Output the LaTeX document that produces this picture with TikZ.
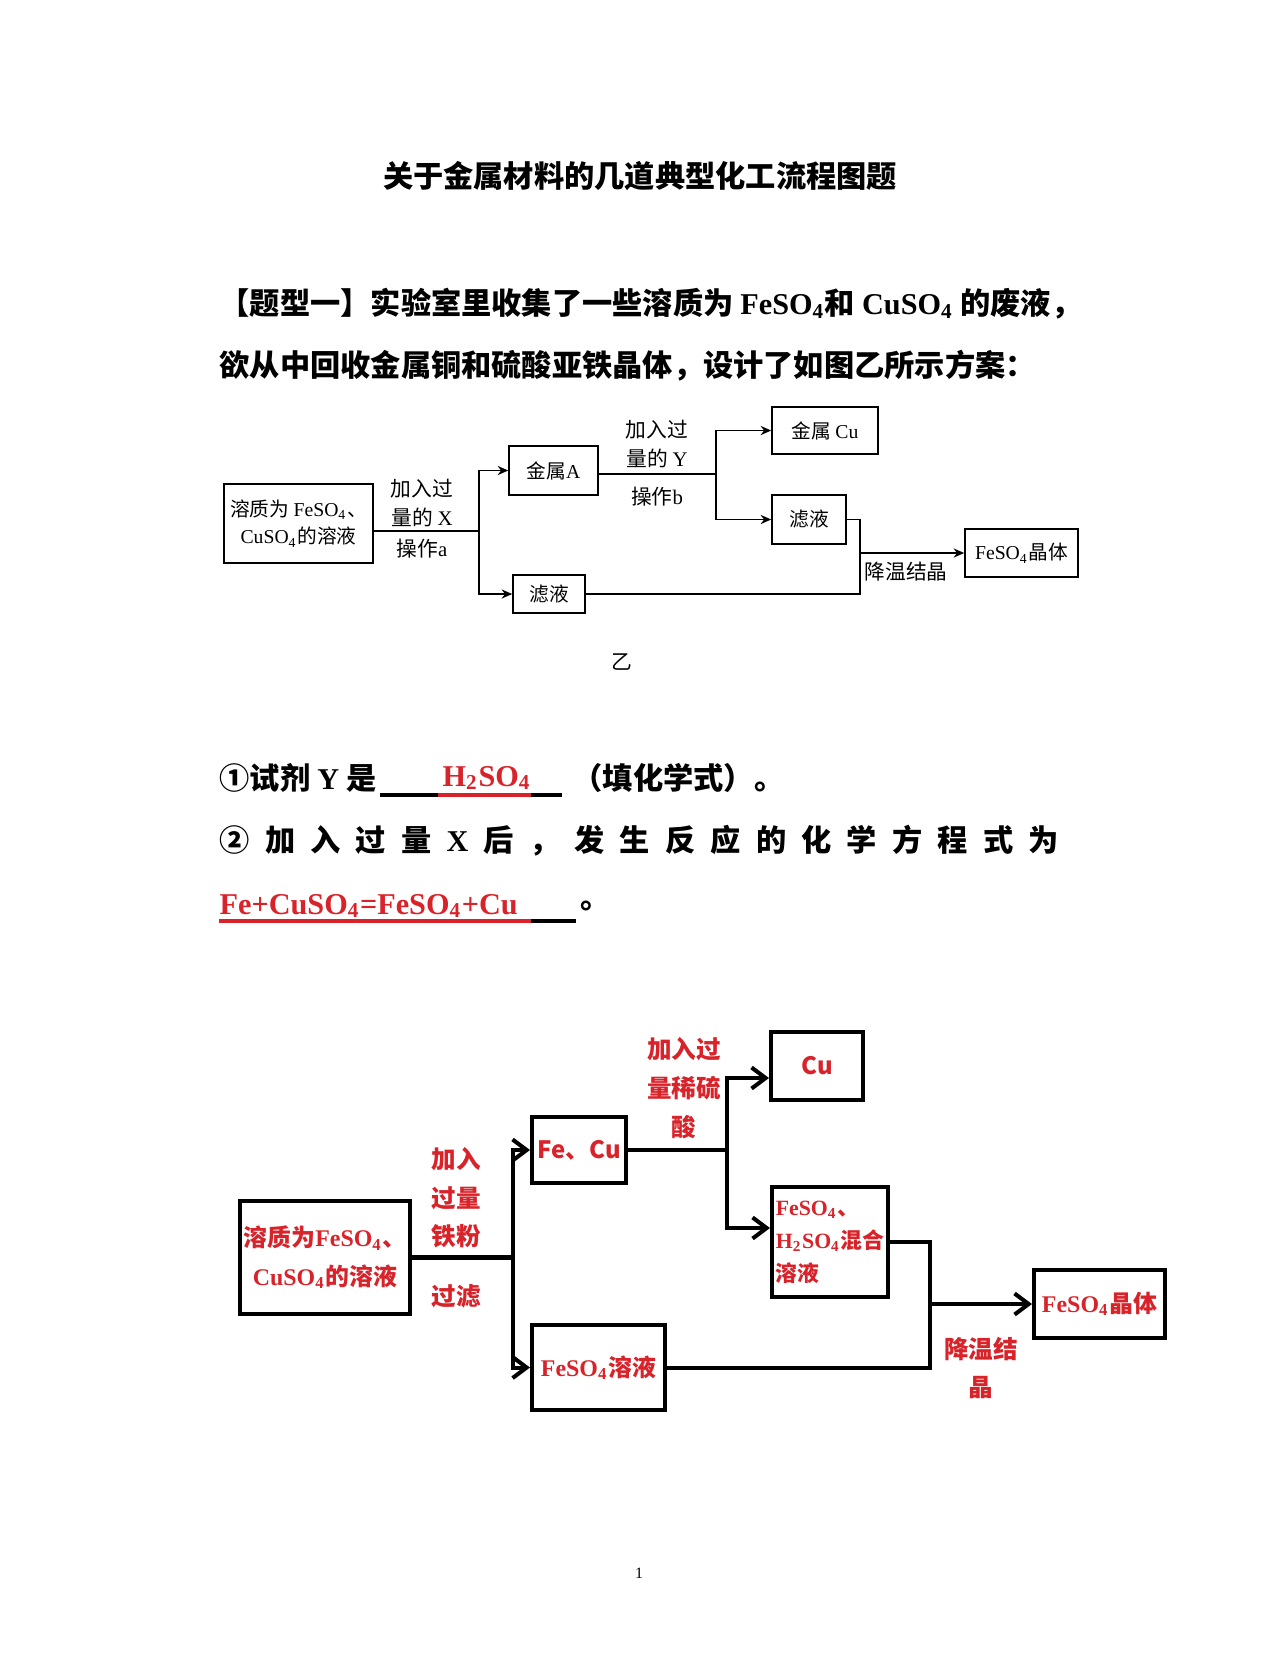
\documentclass[tikz,border=0pt]{standalone}
\usepackage{fontspec}
\setmainfont{Noto Sans CJK SC}
\newfontfamily\latin{Liberation Serif}
\usepackage{tikz}
\usetikzlibrary{arrows.meta, positioning}
\definecolor{ansRed}{HTML}{D8232A}
\newcommand{\chem}[1]{{\latin #1}}
\newcommand{\sub}[1]{\textsubscript{#1}}

\begin{document}
\begin{tikzpicture}[
    tbox/.style={rectangle, draw, line width=0.45pt, inner sep=1pt, align=center, font=\fontsize{5.6}{7.9}\selectfont},
    tarr/.style={-{Stealth[length=3pt, width=2.6pt]}, line width=0.45pt},
    tlbl/.style={align=center, font=\fontsize{5.9}{8}\selectfont},
    rbox/.style={rectangle, draw, line width=1.15pt, inner sep=1pt, align=center, text=ansRed, font=\fontsize{6.8}{11}\selectfont\bfseries},
    rline/.style={line width=1.15pt, line cap=rect},
    rarr/.style={-{Straight Barb[length=4pt, width=6pt]}, line width=1.15pt, line cap=rect},
    rlbl/.style={align=center, text=ansRed, font=\fontsize{7}{11}\selectfont\bfseries},
    para/.style={anchor=west, inner sep=0pt, font=\fontsize{8.6}{10}\selectfont\bfseries}
]
\path[use as bounding box, fill=white] (0,0) rectangle (12.8,-16.76);

\node[font=\fontsize{8.6}{10}\selectfont\bfseries] (title) at (6.40,-1.76) {关于金属材料的几道典型化工流程图题};
\node[para] (p1) at (2.19,-3.04) {【题型一】实验室里收集了一些溶质为 \chem{FeSO\sub{4}}和 \chem{CuSO\sub{4}} 的废液，};
\node[para] (p2) at (2.19,-3.66) {欲从中回收金属铜和硫酸亚铁晶体，设计了如图乙所示方案：};

\node[tbox, minimum width=1.49cm, minimum height=0.79cm] (src1) at (2.985,-5.235) {溶质为 \chem{FeSO\sub{4}}、\\\chem{CuSO\sub{4}}的溶液};
\node[tbox, minimum width=0.89cm, minimum height=0.49cm] (metA) at (5.535,-4.705) {金属\chem{A}};
\node[tbox, minimum width=0.72cm, minimum height=0.38cm] (fil1) at (5.49,-5.94) {滤液};
\node[tbox, minimum width=1.06cm, minimum height=0.47cm] (cu1) at (8.25,-4.305) {金属 \chem{Cu}};
\node[tbox, minimum width=0.74cm, minimum height=0.49cm] (fil2) at (8.09,-5.195) {滤液};
\node[tbox, minimum width=1.13cm, minimum height=0.48cm] (crys1) at (10.215,-5.53) {\chem{FeSO\sub{4}}晶体};
\coordinate (j1) at (4.79,-5.31);
\coordinate (j2) at (7.16,-4.74);
\coordinate (j3) at (8.60,-5.53);
\draw[line width=0.45pt] (src1.east |- j1) -- (j1);
\draw[tarr] (j1) |- (metA);
\draw[tarr] (j1) |- (fil1);
\draw[line width=0.45pt] (metA.east |- j2) -- (j2);
\draw[tarr] (j2) |- (cu1);
\draw[tarr] (j2) |- (fil2);
\draw[line width=0.45pt] (fil2) -| (fil1 -| j3) -- (fil1);
\draw[tarr] (j3) -- (crys1);
\node[tlbl] (addX) at (4.22,-5.03) {加入过\\量的 \chem{X}};
\node[tlbl] (opA) at (4.22,-5.49) {操作\chem{a}};
\node[tlbl] (addY) at (6.57,-4.44) {加入过\\量的 \chem{Y}};
\node[tlbl] (opB) at (6.57,-4.97) {操作\chem{b}};
\node[tlbl] (cool1) at (9.06,-5.72) {降温结晶};
\node[tlbl] (capB) at (6.22,-6.62) {乙};

\node[para] (q1) at (2.19,-7.78) {①试剂 \chem{Y} 是};
\node[para, text=ansRed, font=\fontsize{8.6}{10}\selectfont\bfseries\latin] (a1) at (4.42,-7.78) {H\sub{2}SO\sub{4}};
\node[para] (q1b) at (5.72,-7.78) {（填化学式）。};
\draw[line width=1.1pt] (3.80,-7.95) -- (4.38,-7.95);
\draw[ansRed, line width=1.1pt] (4.38,-7.95) -- (5.31,-7.95);
\draw[line width=1.1pt] (5.31,-7.95) -- (5.62,-7.95);
\node[para] (q2) at (2.19,-8.41) {\makebox[8.39cm][l]{②\hfill 加\hfill 入\hfill 过\hfill 量\hfill \chem{X}\hfill 后\hfill ，\hfill 发\hfill 生\hfill 反\hfill 应\hfill 的\hfill 化\hfill 学\hfill 方\hfill 程\hfill 式\hfill 为}};
\node[para, text=ansRed, font=\fontsize{8.6}{10}\selectfont\bfseries\latin] (a2) at (2.19,-9.06) {Fe+CuSO\sub{4}=FeSO\sub{4}+Cu};
\draw[ansRed, line width=1.1pt] (2.19,-9.21) -- (5.31,-9.21);
\draw[line width=1.1pt] (5.31,-9.21) -- (5.76,-9.21);
\node[para] (q3b) at (5.80,-9.06) {。};

\node[rbox, minimum width=1.68cm, minimum height=1.13cm] (src2) at (3.25,-12.575) {溶质为\chem{FeSO\sub{4}}、\\\chem{CuSO\sub{4}}的溶液};
\node[rbox, minimum width=0.94cm, minimum height=0.66cm] (feCu) at (5.79,-11.50) {Fe、Cu};
\node[rbox, minimum width=1.33cm, minimum height=0.85cm] (fes2) at (5.985,-13.675) {\chem{FeSO\sub{4}}溶液};
\node[rbox, minimum width=0.92cm, minimum height=0.68cm] (cu2) at (8.17,-10.66) {Cu};
\node[rbox, minimum width=1.16cm, minimum height=1.10cm, align=left, font=\fontsize{6.2}{9.4}\selectfont\bfseries] (mix) at (8.30,-12.42) {\chem{FeSO\sub{4}}、\\\chem{H\sub{2}SO\sub{4}}混合\\溶液};
\node[rbox, minimum width=1.31cm, minimum height=0.68cm] (crys2) at (10.995,-13.04) {\chem{FeSO\sub{4}}晶体};
\coordinate[right=1.01cm of src2] (k1);
\coordinate[right=0.99cm of feCu] (k2);
\coordinate (k3) at (9.30,-13.04);
\draw[rline] (src2) -- (k1);
\draw[rarr] (k1) |- (feCu);
\draw[rarr] (k1) |- (fes2);
\draw[rline] (feCu) -- (k2);
\draw[rarr] (k2) |- ([yshift=-0.12cm]cu2.west);
\draw[rarr] (k2) |- ([yshift=0.14cm]mix.west);
\draw[rline] (mix) -| (fes2 -| k3) -- (fes2);
\draw[rarr] (k3) -- (crys2);
\node[rlbl] (addFe) at (4.56,-11.98) {加入\\过量\\铁粉};
\node[rlbl] (filt) at (4.56,-12.96) {过滤};
\node[rlbl] (addAcid) at (6.84,-10.88) {加入过\\量稀硫\\酸};
\node[rlbl] (cool2) at (9.81,-13.68) {降温结\\晶};

\node[font=\fontsize{4.5}{5}\selectfont\latin] (pg) at (6.39,-15.73) {1};
\end{tikzpicture}
\end{document}
